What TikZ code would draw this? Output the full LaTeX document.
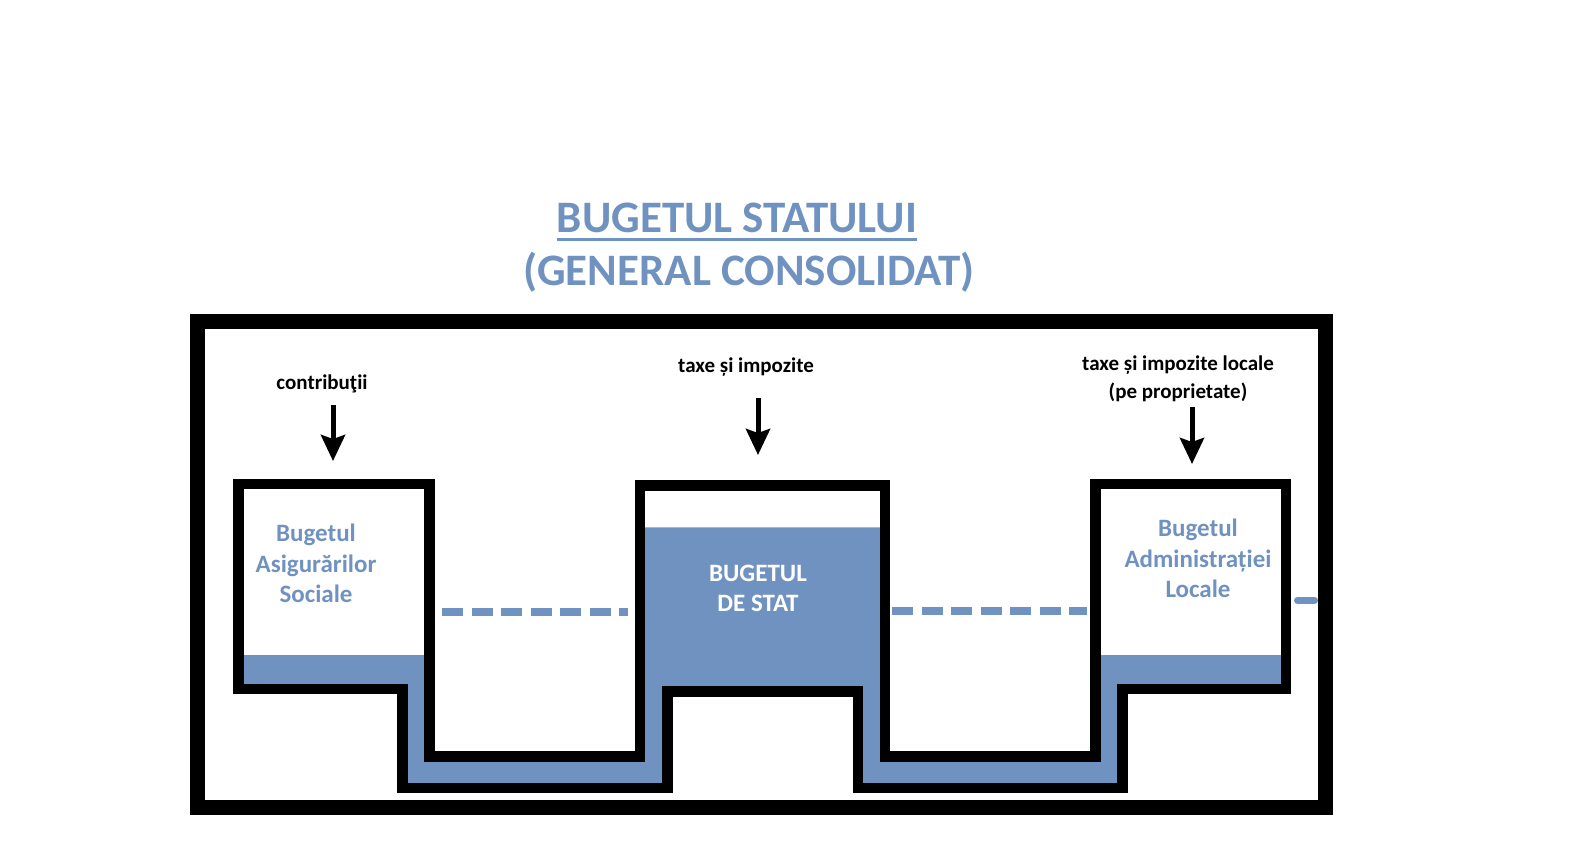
\documentclass[tikz,border=0pt]{standalone}
\usepackage{fontspec}
\setmainfont{Carlito}
\usetikzlibrary{arrows.meta}
\definecolor{pool}{RGB}{112,146,192}
\tikzset{
every node/.style={inner sep=0pt},
wall/.style={line width=10.5pt},
gauge/.style={pool,line width=8pt,dash pattern=on 21pt off 8.5pt}}

\begin{document}
\begin{tikzpicture}[x=1pt,y=-1pt, title/.style={anchor=base,text=pool,font=\fontsize{45}{48}\selectfont\bfseries}, tag/.style={anchor=base,align=center,font=\fontsize{21}{28}\selectfont\bfseries}, tank/.style={anchor=base,align=center,text=pool,font=\fontsize{25}{30.5}\selectfont\bfseries}, flow/.style={line width=5pt,-{Stealth[length=26pt,width=24pt,inset=4pt]}}]
   \useasboundingbox (0,0) rectangle (1591,867);
   \node[title] (head) at (737,232.5) {BUGETUL STATULUI};
   \node[title] (sub) at (749,285) {(GENERAL CONSOLIDAT)};
   \draw[pool,line width=3pt] ([yshift=-6.5pt]head.base west) -- ([yshift=-6.5pt]head.base east);
   \draw[line width=14.5pt] (197.5,321.5) rectangle (1325.5,807.5);
   \fill[pool] (238.7,655) -| (429.5,756.7) -| (640,527.3) -| (885,756.7) -| (1095.3,655) -| (1286.2,688.8)
      -| (1122.5,788) -| (858,691.3) -| (667.3,788) -| (402.5,688.8) -| (238.7,655) -- cycle;
   \draw[wall] (238.7,688.8) |- (429.5,483.8) |- (640,756.7) |- (885,485.5) |- (1095.3,756.7) |- (1286.2,483.8)
      |- (1122.5,688.8) |- (858,788) |- (667.3,691.3) |- (402.5,788) |- (238.7,688.8) -- cycle;
   \node[tag] (contrib) at (322,389) {contribuţii};
   \node[tag] (taxes) at (746,372.5) {taxe și impozite};
   \node[tag] (localtax) at (1178,398) {taxe și impozite locale\\(pe proprietate)};
   \foreach \x/\t/\b [count=\i] in {333/405/461, 758/398/455, 1192/407/464}{
      \coordinate (src\i) at (\x,\t);
      \coordinate (dst\i) at (\x,\b);
      \draw[flow] (src\i) -- (dst\i);
   }
   \node[tank] (social) at (316,602.5) {Bugetul\\Asigurărilor\\Sociale};
   \node[tank,text=white] (state) at (758,611.7) {BUGETUL\\DE STAT};
   \node[tank] (adminloc) at (1198,597.7) {Bugetul\\Administrației\\Locale};
   \coordinate (gA) at (442,611.5); \coordinate (gB) at (628,611.5);
   \coordinate (gC) at (892,610.7); \coordinate (gD) at (1087,610.7);
   \coordinate (gE) at (1297.5,600.3); \coordinate (gF) at (1314.5,600.3);
   \draw[gauge] (gA) -- (gB);
   \draw[gauge] (gC) -- (gD);
   \draw[pool,line width=7pt,line cap=round] (gE) -- (gF);
\end{tikzpicture}
\end{document}
